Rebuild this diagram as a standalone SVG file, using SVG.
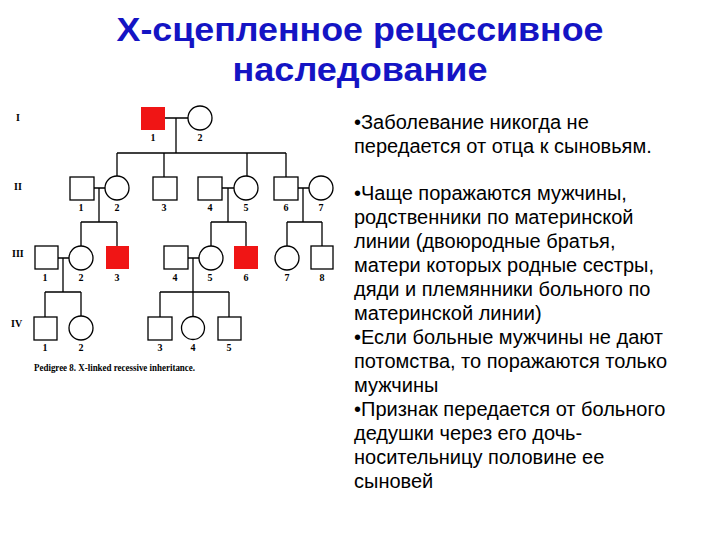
<svg xmlns="http://www.w3.org/2000/svg" width="720" height="540" viewBox="0 0 720 540">
<style>
.t{font-family:"Liberation Sans",Arial,sans-serif;font-weight:bold;font-size:33px;fill:#1414c4;text-anchor:middle}
.b{font-family:"Liberation Sans",Arial,sans-serif;font-size:20px;fill:#000}
.n{font-family:"Liberation Serif","Times New Roman",serif;font-weight:bold;font-size:10px;fill:#000;text-anchor:middle}
.g{font-family:"Liberation Serif","Times New Roman",serif;font-weight:bold;font-size:10px;fill:#000}
.m{fill:#fff;stroke:#000;stroke-width:1.3}
.a{fill:#f01515;stroke:none}
.c{fill:none;stroke:#000;stroke-width:1.3}
</style>
<rect width="720" height="540" fill="#fff"/>
<text class="t" x="360" y="41" textLength="487" lengthAdjust="spacingAndGlyphs">Х-сцепленное рецессивное</text>
<text class="t" x="360" y="81" textLength="255" lengthAdjust="spacingAndGlyphs">наследование</text>

<g id="gen-labels">
<text class="g" x="16" y="121">I</text>
<text class="g" x="14" y="190">II</text>
<text class="g" x="12" y="257">III</text>
<text class="g" x="11" y="327">IV</text>
</g>

<g id="connectors">
<path class="c" d="M165,118H188M176,118V153M117,153H286M117,153V176M164,153V177M247,153V176M286,153V177"/>
<path class="c" d="M94,188H105M99,188V222M81,222H117M81,222V246M117,222V246"/>
<path class="c" d="M222,188H234M228,188V222M211,222H246M211,222V246M246,222V246"/>
<path class="c" d="M298,188H309M303,188V222M287,222H322M287,222V246M322,222V246"/>
<path class="c" d="M58,258H69M63,258V292M45,292H81M45,292V317M81,292V316"/>
<path class="c" d="M188,258H199M193,258V316M160,292H229M160,292V317M229,292V317"/>
</g>

<g id="I-1"><rect class="a" x="141" y="107" width="24" height="23"/><text class="n" x="153" y="141">1</text></g>
<g id="I-2"><circle class="m" cx="200" cy="118" r="12"/><text class="n" x="200" y="141">2</text></g>

<g id="II-1"><rect class="m" x="70" y="177" width="24" height="23"/><text class="n" x="81" y="211">1</text></g>
<g id="II-2"><circle class="m" cx="117" cy="188" r="12"/><text class="n" x="117" y="211">2</text></g>
<g id="II-3"><rect class="m" x="153" y="177" width="24" height="23"/><text class="n" x="164" y="211">3</text></g>
<g id="II-4"><rect class="m" x="198" y="177" width="24" height="23"/><text class="n" x="210" y="211">4</text></g>
<g id="II-5"><circle class="m" cx="246" cy="188" r="12"/><text class="n" x="246" y="211">5</text></g>
<g id="II-6"><rect class="m" x="274" y="177" width="24" height="23"/><text class="n" x="286" y="211">6</text></g>
<g id="II-7"><circle class="m" cx="321" cy="188" r="12"/><text class="n" x="321" y="211">7</text></g>

<g id="III-1"><rect class="m" x="35" y="246" width="23" height="23"/><text class="n" x="45" y="281">1</text></g>
<g id="III-2"><circle class="m" cx="81" cy="258" r="12"/><text class="n" x="81" y="281">2</text></g>
<g id="III-3"><rect class="a" x="106" y="246" width="23" height="23"/><text class="n" x="117" y="281">3</text></g>
<g id="III-4"><rect class="m" x="164" y="246" width="24" height="23"/><text class="n" x="175" y="281">4</text></g>
<g id="III-5"><circle class="m" cx="211" cy="258" r="12"/><text class="n" x="210" y="281">5</text></g>
<g id="III-6"><rect class="a" x="234" y="246" width="24" height="23"/><text class="n" x="246" y="281">6</text></g>
<g id="III-7"><circle class="m" cx="287" cy="258" r="12"/><text class="n" x="287" y="281">7</text></g>
<g id="III-8"><rect class="m" x="311" y="246" width="22" height="23"/><text class="n" x="322" y="281">8</text></g>

<g id="IV-1"><rect class="m" x="34" y="317" width="23" height="23"/><text class="n" x="45" y="351">1</text></g>
<g id="IV-2"><circle class="m" cx="81" cy="328" r="12"/><text class="n" x="81" y="351">2</text></g>
<g id="IV-3"><rect class="m" x="148" y="317" width="24" height="23"/><text class="n" x="160" y="351">3</text></g>
<g id="IV-4"><circle class="m" cx="193" cy="328" r="11.5"/><text class="n" x="193" y="351">4</text></g>
<g id="IV-5"><rect class="m" x="218" y="317" width="23" height="23"/><text class="n" x="229" y="351">5</text></g>

<text class="g" x="34" y="371" font-size="9" textLength="161" lengthAdjust="spacingAndGlyphs">Pedigree 8. X-linked recessive inheritance.</text>

<g id="notes">
<text class="b" x="354" y="129">•Заболевание никогда не</text>
<text class="b" x="354" y="153">передается от отца к сыновьям.</text>
<text class="b" x="354" y="200">•Чаще поражаются мужчины,</text>
<text class="b" x="354" y="224">родственники по материнской</text>
<text class="b" x="354" y="248">линии (двоюродные братья,</text>
<text class="b" x="354" y="272">матери которых родные сестры,</text>
<text class="b" x="354" y="296">дяди и племянники больного по</text>
<text class="b" x="354" y="320">материнской линии)</text>
<text class="b" x="354" y="344">•Если больные мужчины не дают</text>
<text class="b" x="354" y="368">потомства, то поражаются только</text>
<text class="b" x="354" y="392">мужчины</text>
<text class="b" x="354" y="416">•Признак передается от больного</text>
<text class="b" x="354" y="440">дедушки через его дочь-</text>
<text class="b" x="354" y="464">носительницу половине ее</text>
<text class="b" x="354" y="488">сыновей</text>
</g>
</svg>
